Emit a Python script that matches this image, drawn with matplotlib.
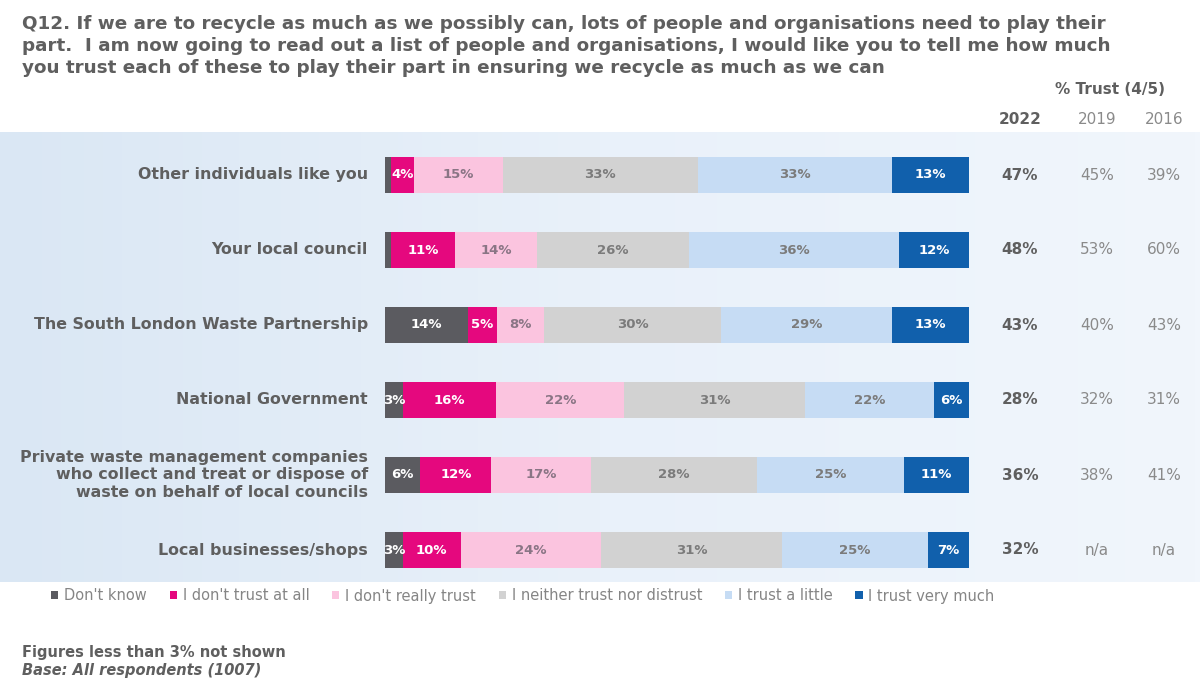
import numpy as np
import matplotlib.pyplot as plt
from matplotlib.patches import Patch
from matplotlib.colors import LinearSegmentedColormap

# Data
#-----------------------------------
categories = [
    "Other individuals like you",
    "Your local council",
    "The South London Waste Partnership",
    "National Government",
    "Private waste management companies\nwho collect and treat or dispose of\nwaste on behalf of local councils",
    "Local businesses/shops",
]
series = ["Don't know", "I don't trust at all", "I don't really trust",
          "I neither trust nor distrust", "I trust a little", "I trust very much"]

dont_know = [1, 1, 14, 3, 6, 3]
no_trust = [4, 11, 5, 16, 12, 10]
not_really = [15, 14, 8, 22, 17, 24]
neither = [33, 26, 30, 31, 28, 31]
a_little = [33, 36, 29, 22, 25, 25]
very_much = [13, 12, 13, 6, 11, 7]

trust_2022 = ["47%", "48%", "43%", "28%", "36%", "32%"]
trust_2019 = ["45%", "53%", "40%", "32%", "38%", "n/a"]
trust_2016 = ["39%", "60%", "43%", "31%", "41%", "n/a"]

colors = ["#5b5b60", "#e5087e", "#fbc4df", "#d2d2d2", "#c6dcf4", "#1160ac"]
label_colors = ["white", "white", "#8a7585", "#7b7b7b", "#7b7b7b", "white"]
grey = "#5f5f5f"
light = "#8a8a8a"

W, H = 1200, 697
fig = plt.figure(figsize=(W / 100, H / 100), dpi=100)

# light blue band behind the chart
bg = fig.add_axes([0, 1 - 582 / H, 1, 450 / H])
grad = np.linspace(0, 1, 256).reshape(1, -1)
cmap = LinearSegmentedColormap.from_list("band", ["#dae7f4", "#e9f1fa", "#f1f6fc"])
bg.imshow(grad, aspect="auto", cmap=cmap, extent=[0, 1, 0, 1])
bg.axis("off")

# Bars
#-----------------------------------
ax = fig.add_axes([385 / W, 1 - 587.5 / H, 584 / W, 450 / H])
ax.set_facecolor("none")
data = np.array([dont_know, no_trust, not_really, neither, a_little, very_much], dtype=float)
totals = data.sum(axis=0)
scaled = data / totals * 100
y = np.arange(len(categories))
left = np.zeros(len(categories))
for k in range(len(series)):
    ax.barh(y, scaled[k], left=left, height=0.48, color=colors[k], label=series[k])
    for i in range(len(categories)):
        if data[k, i] >= 3:
            ax.text(left[i] + scaled[k, i] / 2, y[i], f"{int(data[k, i])}%",
                    ha="center", va="center", fontsize=9.5, fontweight="bold",
                    color=label_colors[k])
    left += scaled[k]

ax.set_xlim(0, 100)
ax.set_ylim(len(categories) - 0.5, -0.5)
ax.axis("off")

px = 584 / 100  # pixels per percent
for i, cat in enumerate(categories):
    ax.text(-17 / px, y[i], cat, ha="right", va="center", fontsize=11.4,
            fontweight="bold", color=grey, linespacing=1.22, clip_on=False)
    ax.text((1020 - 385) / px, y[i], trust_2022[i], ha="center", va="center",
            fontsize=11, fontweight="bold", color=grey, clip_on=False)
    ax.text((1097 - 385) / px, y[i], trust_2019[i], ha="center", va="center",
            fontsize=11, color=light, clip_on=False)
    ax.text((1164 - 385) / px, y[i], trust_2016[i], ha="center", va="center",
            fontsize=11, color=light, clip_on=False)

# Headers and title
#-----------------------------------
title = ("Q12. If we are to recycle as much as we possibly can, lots of people and organisations need to play their\n"
         "part.  I am now going to read out a list of people and organisations, I would like you to tell me how much\n"
         "you trust each of these to play their part in ensuring we recycle as much as we can")
fig.text(22 / W, 1 - 15 / H, title, ha="left", va="top", fontsize=13.2,
         fontweight="bold", color=grey, linespacing=1.3)
fig.text(1110 / W, 1 - 89 / H, "% Trust (4/5)", ha="center", va="center",
         fontsize=11, fontweight="bold", color=grey)
fig.text(1020 / W, 1 - 119 / H, "2022", ha="center", va="center",
         fontsize=11, fontweight="bold", color=grey)
fig.text(1097 / W, 1 - 119 / H, "2019", ha="center", va="center",
         fontsize=11, color=light)
fig.text(1164 / W, 1 - 119 / H, "2016", ha="center", va="center",
         fontsize=11, color=light)

# Legend
handles = [Patch(facecolor=c) for c in colors]
fig.legend(handles, series, loc="center left", bbox_to_anchor=(38 / W, 1 - 596 / H),
           ncol=6, frameon=False, fontsize=10.5, handlelength=0.5, handleheight=0.5,
           handletextpad=0.4, columnspacing=1.55, labelcolor="#858585")

# Footnotes
fig.text(22 / W, 1 - 652 / H, "Figures less than 3% not shown", ha="left", va="center",
         fontsize=10.5, fontweight="bold", color=grey)
fig.text(22 / W, 1 - 671 / H, "Base: All respondents (1007)", ha="left", va="center",
         fontsize=10.5, fontweight="bold", fontstyle="italic", color=grey)

fig.savefig("out.png", dpi=100)
